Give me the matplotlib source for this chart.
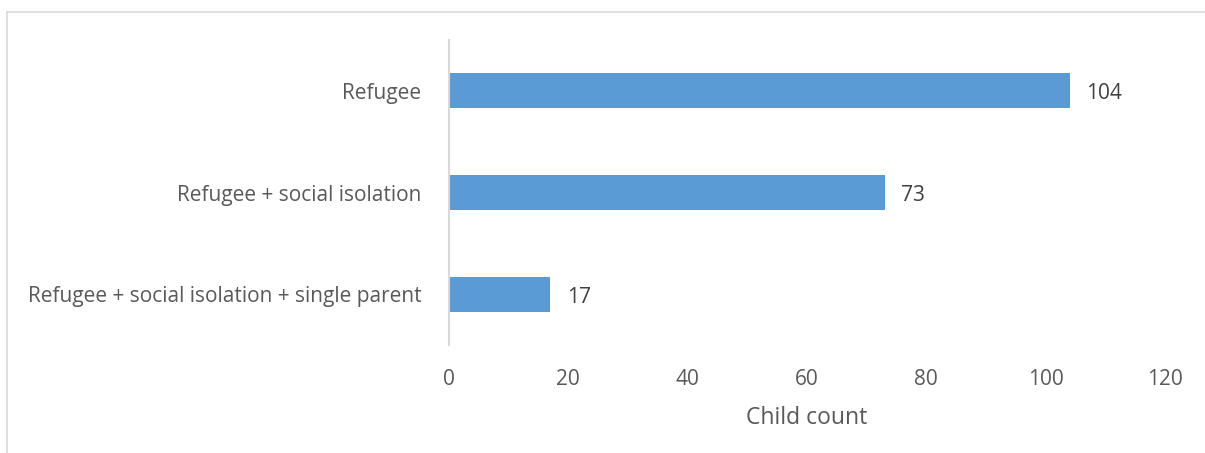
import matplotlib.pyplot as plt
from matplotlib.lines import Line2D

categories = ["Refugee", "Refugee + social isolation", "Refugee + social isolation + single parent"]
counts = [104, 73, 17]
xticks = [0, 20, 40, 60, 80, 100, 120]

plt.rcParams['font.family'] = ['Open Sans', 'DejaVu Sans']
grey = '#595959'

fig = plt.figure(figsize=(12.05, 4.53), dpi=100)
ax = fig.add_axes([449 / 1205, 1 - 345 / 453, (1165 - 449) / 1205, (345 - 40) / 453])

ypos = list(range(len(categories)))[::-1]
ax.barh(ypos, counts, height=0.345, color='#5B9BD5')
for y, v in zip(ypos, counts):
    ax.text(v + 2.8, y - 0.03, str(v), va='center', ha='left', fontsize=15, color='#404040')

ax.set_xlim(0, 120)
ax.set_ylim(-0.5, 2.5)
ax.set_yticks(ypos)
ax.set_yticklabels(categories, fontsize=15, color=grey)
ax.set_xticks(xticks)
ax.set_xticklabels([str(t) for t in xticks], fontsize=15, color=grey)
ax.tick_params(axis='both', length=0)
ax.tick_params(axis='y', pad=20)
ax.tick_params(axis='x', pad=17)
ax.set_xlabel("Child count", fontsize=16.5, color=grey, labelpad=12)

for s in ['top', 'right', 'bottom']:
    ax.spines[s].set_visible(False)
ax.spines['left'].set_color('#D9D9D9')
ax.spines['left'].set_linewidth(1.5)

# chart-area border (only top and left edges visible in the reference crop)
fig.add_artist(Line2D([7 / 1205, 7 / 1205], [0, 1 - 12 / 453], transform=fig.transFigure,
                      color='#D9D9D9', linewidth=1.2))
fig.add_artist(Line2D([7 / 1205, 1], [1 - 12 / 453, 1 - 12 / 453], transform=fig.transFigure,
                      color='#D9D9D9', linewidth=1.2))

fig.savefig('out.png', dpi=100)
